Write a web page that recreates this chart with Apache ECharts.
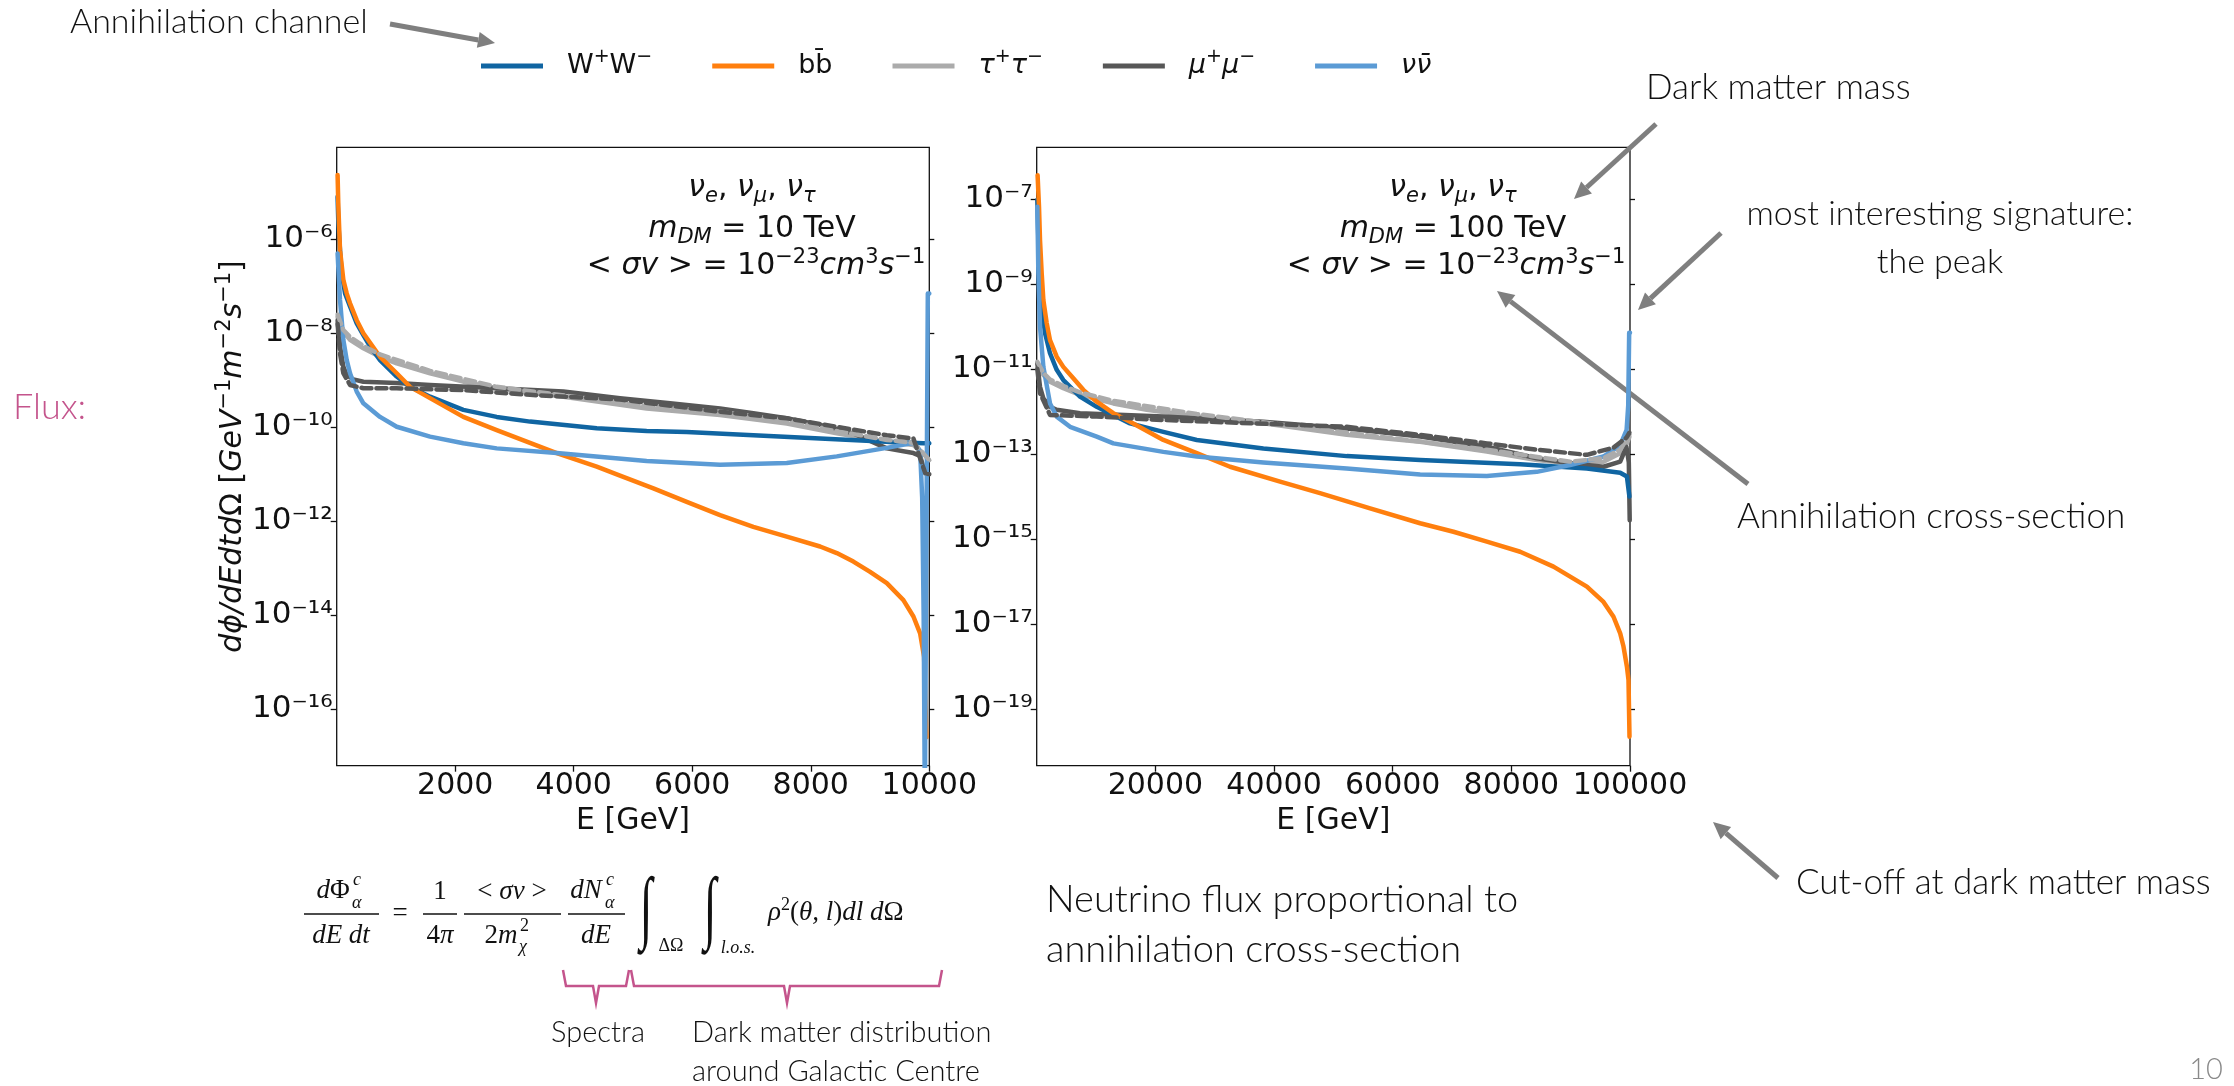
<!DOCTYPE html>
<html>
<head>
<meta charset="utf-8">
<script src="https://cdn.jsdelivr.net/npm/echarts@6/dist/echarts.min.js"></script>
<style>
html, body { margin: 0; padding: 0; background: #fff; }
#main { width: 2234px; height: 1086px; }
</style>
</head>
<body>
<div id="main"></div>
<script>
// channels shown in the legend
var channels = ['WW', 'bb', 'tautau', 'mumu', 'nunu'];
var channelColors = ['#1065a2', '#ff7f0e', '#ababab', '#575757', '#5b9bd5'];

// [E (GeV), log10 flux], m_DM = 10 TeV
var ww10 = [[15,-5.09],[28,-5.66],[56,-6.23],[84,-6.72],[141,-7.15],[225,-7.43],[338,-7.79],[450,-8.04],[563,-8.28],[731,-8.57],[1013,-8.92],[1238,-9.14],[1575,-9.35],[2137,-9.63],[2700,-9.78],[3263,-9.88],[4388,-10.02],[5230,-10.08],[5907,-10.10],[7031,-10.17],[8157,-10.24],[9283,-10.31],[9900,-10.34],[10000,-10.34]];
var bb10 = [[15,-4.63],[28,-5.30],[56,-6.23],[112,-6.86],[169,-7.15],[225,-7.36],[338,-7.72],[450,-8.00],[731,-8.50],[1013,-8.85],[1238,-9.14],[1575,-9.38],[2137,-9.78],[2700,-10.06],[3713,-10.55],[4388,-10.84],[4781,-11.03],[5344,-11.30],[5907,-11.59],[6469,-11.87],[7031,-12.12],[7595,-12.33],[8157,-12.54],[8439,-12.68],[8719,-12.86],[9001,-13.08],[9283,-13.32],[9563,-13.68],[9732,-14.03],[9845,-14.39],[9912,-14.89],[9952,-16.6]];
var tau10 = [[15,-7.65],[112,-7.97],[225,-8.14],[450,-8.32],[731,-8.50],[1013,-8.64],[1575,-8.85],[2137,-9.03],[2700,-9.17],[3826,-9.35],[5230,-9.60],[6469,-9.74],[7595,-9.92],[8439,-10.13],[9283,-10.31],[9732,-10.38],[9930,-10.6],[10000,-10.7]];
var tau10Dashed = [[15,-7.6],[112,-7.93],[225,-8.08],[450,-8.27],[731,-8.45],[1575,-8.80],[2700,-9.14],[5230,-9.55],[6469,-9.67],[7595,-9.85],[8439,-10.08],[9283,-10.27],[9732,-10.33],[9930,-10.6],[10000,-10.7]];
var mu10 = [[15,-7.72],[56,-8.28],[112,-8.71],[169,-8.89],[281,-8.98],[450,-9.03],[1013,-9.06],[1575,-9.10],[2700,-9.17],[3826,-9.24],[4781,-9.38],[5625,-9.49],[6469,-9.60],[7031,-9.70],[7595,-9.81],[8157,-9.95],[8719,-10.13],[9283,-10.45],[9732,-10.55],[9845,-10.61],[9930,-10.98],[10000,-11.0]];
var mu10Dashed = [[15,-7.8],[56,-8.43],[112,-8.85],[225,-9.10],[450,-9.17],[1013,-9.17],[2137,-9.21],[3263,-9.31],[4781,-9.41],[6469,-9.67],[7595,-9.81],[8439,-9.99],[9283,-10.17],[9732,-10.24],[9930,-10.97],[10000,-11.0]];
var nu10 = [[15,-6.3],[56,-7.29],[112,-8.14],[169,-8.57],[225,-8.85],[338,-9.24],[450,-9.49],[731,-9.78],[1013,-9.99],[1575,-10.20],[2137,-10.34],[2700,-10.45],[3713,-10.55],[5230,-10.72],[6469,-10.80],[7595,-10.76],[8439,-10.62],[9283,-10.44],[9732,-10.33],[9845,-10.5],[9880,-11.5],[9905,-14],[9925,-18],[9975,-7.15],[10000,-7.15]];

// [E (GeV), log10 flux], m_DM = 100 TeV
var ww100 = [[107,-7.02],[281,-7.96],[556,-8.91],[843,-9.53],[1405,-10.16],[2242,-10.63],[3372,-11.02],[4485,-11.26],[7295,-11.65],[10116,-11.89],[15731,-12.28],[21345,-12.48],[26977,-12.67],[38202,-12.87],[52251,-13.05],[64627,-13.14],[81487,-13.24],[92734,-13.34],[98348,-13.44],[99477,-13.53],[99900,-14.0],[100000,-14.0]];
var bb100 = [[150,-6.44],[388,-7.18],[556,-7.96],[843,-8.75],[1124,-9.38],[1686,-9.92],[2242,-10.32],[3372,-10.71],[4485,-10.95],[6171,-11.22],[7857,-11.49],[10116,-11.77],[12915,-12.04],[15731,-12.24],[21345,-12.67],[26977,-12.98],[32592,-13.30],[41022,-13.65],[47749,-13.92],[56196,-14.28],[64627,-14.63],[70247,-14.83],[75872,-15.06],[81487,-15.30],[87102,-15.65],[92734,-16.12],[95533,-16.48],[97219,-16.83],[98348,-17.22],[98904,-17.53],[99477,-18.00],[99747,-18.32],[99916,-19.65]];
var tau100 = [[107,-10.87],[1124,-11.14],[2242,-11.30],[4485,-11.45],[7295,-11.61],[12915,-11.81],[18546,-11.96],[26977,-12.12],[38202,-12.28],[52251,-12.55],[64627,-12.71],[75872,-12.94],[84280,-13.14],[89900,-13.22],[95533,-13.18],[98348,-12.98],[99477,-12.75],[99900,-12.6],[100000,-12.6]];
var tau100Dashed = [[107,-10.83],[1124,-11.09],[2242,-11.25],[4485,-11.40],[7295,-11.55],[12915,-11.75],[26977,-12.06],[52251,-12.5],[75872,-12.9],[89900,-13.18],[95533,-13.1],[98348,-12.9],[99900,-12.55]];
var mu100 = [[107,-10.87],[556,-11.42],[1124,-11.69],[2242,-11.89],[3372,-11.96],[7295,-12.04],[21345,-12.12],[38202,-12.24],[52251,-12.40],[64627,-12.59],[75872,-12.83],[84280,-13.10],[89900,-13.22],[95533,-13.30],[98348,-13.18],[99400,-12.83],[99800,-13.2],[99950,-14.56],[100000,-14.56]];
var mu100Dashed = [[107,-11.0],[556,-11.57],[2242,-12.08],[10116,-12.12],[21345,-12.20],[52251,-12.36],[64627,-12.55],[75872,-12.75],[84280,-12.90],[92734,-13.02],[97219,-12.85],[99430,-12.61],[99900,-12.5]];
var nu100 = [[107,-7.18],[281,-8.75],[556,-10.00],[1124,-10.95],[2242,-11.81],[3372,-12.12],[5620,-12.36],[10116,-12.59],[12915,-12.75],[21345,-12.95],[26977,-13.06],[38202,-13.20],[52251,-13.34],[64627,-13.48],[75872,-13.52],[84280,-13.42],[89900,-13.26],[95533,-13.06],[98348,-12.79],[99430,-12.43],[99700,-11.86],[99860,-10.15],[100000,-10.15]];

// tick positions (log10 exponents and GeV)
var yTicks10 = [-16, -14, -12, -10, -8, -6];
var yTicks100 = [-19, -17, -15, -13, -11, -9, -7];
var eTicks10 = [2000, 4000, 6000, 8000, 10000];
var eTicks100 = [20000, 40000, 60000, 80000, 100000];

var myChart = echarts.init(document.getElementById('main'));

var MF = 'DejaVu Sans';
var mathRich = {
    n: {fontFamily: MF, fontSize: 30, lineHeight: 38, color: '#111'},
    i: {fontFamily: MF, fontSize: 30, lineHeight: 38, fontStyle: 'italic', color: '#111'},
    sup: {fontFamily: MF, fontSize: 21, lineHeight: 21, verticalAlign: 'top', color: '#111'},
    isub: {fontFamily: MF, fontSize: 21, lineHeight: 21, verticalAlign: 'bottom', fontStyle: 'italic', color: '#111'}
};
var legendRich = {
    n: {fontFamily: MF, fontSize: 27, lineHeight: 36, color: '#111'},
    i: {fontFamily: MF, fontSize: 27, lineHeight: 36, fontStyle: 'italic', color: '#111'},
    sup: {fontFamily: MF, fontSize: 19, lineHeight: 19, verticalAlign: 'top', color: '#111'},
    g: {width: 19}
};

var legendText = {
    WW: '{n|W}{sup|+}{n|W}{sup|−}',
    bb: '{n|bb̄}',
    tautau: '{i|τ}{sup|+}{i|τ}{sup|−}',
    mumu: '{i|μ}{sup|+}{i|μ}{sup|−}',
    nunu: '{i|νν̄}'
};

function line(name, data, idx, color, dashed) {
    return {
        type: 'line', name: name, data: data,
        xAxisIndex: idx, yAxisIndex: idx,
        symbol: 'none', showSymbol: false, silent: true, clip: true,
        lineStyle: {color: color, width: 4.5, type: dashed ? [10, 5] : 'solid', join: 'round', cap: 'round'},
        itemStyle: {color: color}
    };
}

var SUP = {'-': '⁻', '0': '⁰', '1': '¹', '2': '²', '3': '³', '4': '⁴', '5': '⁵', '6': '⁶', '7': '⁷', '8': '⁸', '9': '⁹'};
function expLabel(v) {
    return '10' + String(v).split('').map(function (c) { return SUP[c] || c; }).join('');
}

function xAxisFor(idx, max, ticks) {
    return {
        gridIndex: idx, type: 'value', min: 0, max: max,
        axisLine: {show: false}, splitLine: {show: false},
        axisTick: {customValues: ticks, length: 6, lineStyle: {color: '#111', width: 1.3}},
        axisLabel: {customValues: ticks, formatter: function (v) { return String(v); }, fontFamily: MF, fontSize: 30, color: '#111', margin: 6},
        name: 'E [GeV]', nameLocation: 'middle', nameGap: 36,
        nameTextStyle: {fontFamily: MF, fontSize: 30, color: '#111'}
    };
}

function yAxisFor(idx, min, max, ticks, right) {
    return {
        gridIndex: idx, type: 'value', min: min, max: max,
        position: right ? 'right' : 'left',
        axisLine: {show: false}, splitLine: {show: false},
        axisTick: {customValues: ticks, length: right ? 5 : 6, lineStyle: {color: '#111', width: 1.3}},
        axisLabel: right ? {show: false} : {
            customValues: ticks, formatter: expLabel, margin: 4,
            fontFamily: MF, fontSize: 31, color: '#111', padding: [8, 0, 0, 0]
        }
    };
}

var yLeft = yAxisFor(0, -17.207, -4.039, yTicks10, false);
yLeft.name = '{i|dϕ/dEdtd}{n|Ω [}{i|GeV}{sup|−1}{i|m}{sup|−2}{i|s}{sup|−1}{n|]}';
yLeft.nameLocation = 'middle';
yLeft.nameRotate = 90;
yLeft.nameGap = 84;
yLeft.nameTextStyle = {rich: mathRich};

// slide decorations
var SF = 'Lato';
function txt(x, y, text, size, o) {
    o = o || {};
    return {
        type: 'text', x: x, y: y, silent: true,
        scaleY: o.scaleY || 1,
        style: {
            text: text, fontFamily: o.family || SF, fontSize: size,
            fontStyle: o.italic ? 'italic' : 'normal',
            fontWeight: o.weight || (o.family ? 'normal' : 300),
            fill: o.color || '#111',
            align: o.align || 'left', textAlign: o.align || 'left',
            verticalAlign: 'middle', textVerticalAlign: 'middle',
            rich: o.rich
        }
    };
}
function arrow(x1, y1, x2, y2) {
    var a = Math.atan2(y2 - y1, x2 - x1), hl = 17, hw = 8;
    var bx = x2 - hl * Math.cos(a), by = y2 - hl * Math.sin(a);
    return [
        {type: 'line', silent: true, shape: {x1: x1, y1: y1, x2: bx, y2: by}, style: {stroke: '#7f7f7f', lineWidth: 5}},
        {type: 'polygon', silent: true, shape: {points: [[x2, y2], [bx + hw * Math.sin(a), by - hw * Math.cos(a)], [bx - hw * Math.sin(a), by + hw * Math.cos(a)]]}, style: {fill: '#7f7f7f'}}
    ];
}
function bar(x1, x2, y) {
    return {type: 'line', silent: true, shape: {x1: x1, y1: y, x2: x2, y2: y}, style: {stroke: '#111', lineWidth: 1.3}};
}

var FS = 'Liberation Serif';
var fRich = {
    n: {fontFamily: FS, fontSize: 27, lineHeight: 34, color: '#111'},
    i: {fontFamily: FS, fontSize: 27, lineHeight: 34, fontStyle: 'italic', color: '#111'},
    sup: {fontFamily: FS, fontSize: 18, lineHeight: 18, verticalAlign: 'top', color: '#111'}
};
var pink = '#c4548c';
var BAR = 914;

var graphics = [];
graphics.push(txt(70, 22, 'Annihilation channel', 34));
graphics = graphics.concat(arrow(390, 24, 495, 43));
graphics.push(txt(1646, 88, 'Dark matter mass', 35));
graphics = graphics.concat(arrow(1656, 124, 1574, 199));
graphics.push(txt(1940, 214, 'most interesting signature:', 34, {align: 'center'}));
graphics.push(txt(1940, 262, 'the peak', 34, {align: 'center'}));
graphics = graphics.concat(arrow(1721, 233, 1638, 310));
graphics.push(txt(1737, 517, 'Annihilation cross-section', 35));
graphics = graphics.concat(arrow(1748, 484, 1497, 291));
graphics.push(txt(1796, 883, 'Cut-off at dark matter mass', 35));
graphics = graphics.concat(arrow(1778, 878, 1713, 822));
graphics.push(txt(13, 407, 'Flux:', 36, {color: pink}));
graphics.push(txt(2206, 1070, '10', 29, {align: 'center', color: '#8a8a8a'}));
graphics.push(txt(1046, 900, 'Neutrino flux proportional to', 38));
graphics.push(txt(1046, 950, 'annihilation cross-section', 38));
graphics.push(txt(598, 1033, 'Spectra', 29, {align: 'center'}));
graphics.push(txt(692, 1033, 'Dark matter distribution', 29));
graphics.push(txt(692, 1072, 'around Galactic Centre', 29));

// in-panel annotations
[[752, 756, '10'], [1453, 1456, '100']].forEach(function (p) {
    graphics.push(txt(p[0], 188, '{i|ν}{isub|e}{n|, }{i|ν}{isub|μ}{n|, }{i|ν}{isub|τ}', 30, {align: 'center', family: MF, rich: mathRich}));
    graphics.push(txt(p[0], 229, '{i|m}{isub|DM}{n| = ' + p[2] + ' TeV}', 30, {align: 'center', family: MF, rich: mathRich}));
    graphics.push(txt(p[1], 266, '{n|< }{i|σv}{n| > = 10}{sup|−23}{i|cm}{sup|3}{i|s}{sup|−1}', 30, {align: 'center', family: MF, rich: mathRich}));
});

// formula
graphics.push(txt(333, 891, '{i|d}{n|Φ}', 27, {align: 'center', family: FS, rich: fRich}));
graphics.push(txt(353, 880, 'c', 18, {family: FS, italic: true}));
graphics.push(txt(352, 903, 'α', 18, {family: FS, italic: true}));
graphics.push(bar(304, 379, BAR));
graphics.push(txt(341, 936, '{i|dE dt}', 27, {align: 'center', family: FS, rich: fRich}));
graphics.push(txt(400, BAR, '=', 27, {align: 'center', family: FS}));
graphics.push(txt(440, 892, '1', 27, {align: 'center', family: FS}));
graphics.push(bar(423, 457, BAR));
graphics.push(txt(440, 936, '{n|4}{i|π}', 27, {align: 'center', family: FS, rich: fRich}));
graphics.push(txt(512, 892, '{n|< }{i|σv}{n| >}', 27, {align: 'center', family: FS, rich: fRich}));
graphics.push(bar(464, 561, BAR));
graphics.push(txt(501, 936, '{n|2}{i|m}', 27, {align: 'center', family: FS, rich: fRich}));
graphics.push(txt(520, 926, '2', 18, {family: FS}));
graphics.push(txt(519, 947, 'χ', 18, {family: FS, italic: true}));
graphics.push(txt(586, 891, '{i|dN}', 27, {align: 'center', family: FS, rich: fRich}));
graphics.push(txt(606, 880, 'c', 18, {family: FS, italic: true}));
graphics.push(txt(605, 903, 'α', 18, {family: FS, italic: true}));
graphics.push(bar(568, 625, BAR));
graphics.push(txt(596, 936, '{i|dE}', 27, {align: 'center', family: FS, rich: fRich}));
graphics.push(txt(646, 912, '∫', 46, {align: 'center', family: FS, italic: true, scaleY: 1.75}));
graphics.push(txt(671, 946, 'ΔΩ', 18, {align: 'center', family: FS}));
graphics.push(txt(710, 912, '∫', 46, {align: 'center', family: FS, italic: true, scaleY: 1.75}));
graphics.push(txt(738, 948, 'l.o.s.', 18, {align: 'center', family: FS, italic: true}));
graphics.push(txt(768, 913, '{i|ρ}{sup|2}{n|(}{i|θ, l}{n|)}{i|dl d}{n|Ω}', 27, {family: FS, rich: fRich}));

// braces under the formula
graphics.push({type: 'polyline', silent: true, shape: {points: [[563, 970], [566, 986], [593, 986], [596, 1003], [599, 986], [626, 986], [629, 970]]}, style: {stroke: pink, lineWidth: 2.5, fill: null}});
graphics.push({type: 'polyline', silent: true, shape: {points: [[631, 970], [634, 986], [784, 986], [787, 1003], [790, 986], [939, 986], [942, 970]]}, style: {stroke: pink, lineWidth: 2.5, fill: null}});

var option = {
    backgroundColor: '#fff',
    animation: false,
    legend: {
        data: channels,
        left: 481, top: 48, padding: 0,
        icon: 'rect', itemWidth: 62, itemHeight: 5, itemGap: 60,
        formatter: function (name) { return '{g|}' + legendText[name]; },
        textStyle: {fontFamily: MF, fontSize: 27, rich: legendRich}
    },
    grid: [
        {left: 336.7, top: 147.3, width: 592.6, height: 618.4, show: true, borderColor: '#111', borderWidth: 1.3},
        {left: 1036.7, top: 147.3, width: 593.3, height: 618.4, show: true, borderColor: '#111', borderWidth: 1.3}
    ],
    xAxis: [xAxisFor(0, 10000, eTicks10), xAxisFor(1, 100000, eTicks100)],
    yAxis: [
        yLeft,
        yAxisFor(1, -20.334, -5.784, yTicks100, false),
        yAxisFor(0, -17.207, -4.039, yTicks10, true),
        yAxisFor(1, -20.334, -5.784, yTicks100, true)
    ],
    graphic: graphics,
    series: [
        line('tautau', tau10, 0, channelColors[2]),
        line('mumu', mu10, 0, channelColors[3]),
        line('WW', ww10, 0, channelColors[0]),
        line('bb', bb10, 0, channelColors[1]),
        line('nunu', nu10, 0, channelColors[4]),
        line('tautau-d', tau10Dashed, 0, channelColors[2], true),
        line('mumu-d', mu10Dashed, 0, channelColors[3], true),
        line('tautau', tau100, 1, channelColors[2]),
        line('mumu', mu100, 1, channelColors[3]),
        line('WW', ww100, 1, channelColors[0]),
        line('bb', bb100, 1, channelColors[1]),
        line('nunu', nu100, 1, channelColors[4]),
        line('tautau-d', tau100Dashed, 1, channelColors[2], true),
        line('mumu-d', mu100Dashed, 1, channelColors[3], true)
    ]
};

if (option && typeof option === "object") {
    myChart.setOption(option, true);
}
</script>
</body>
</html>
